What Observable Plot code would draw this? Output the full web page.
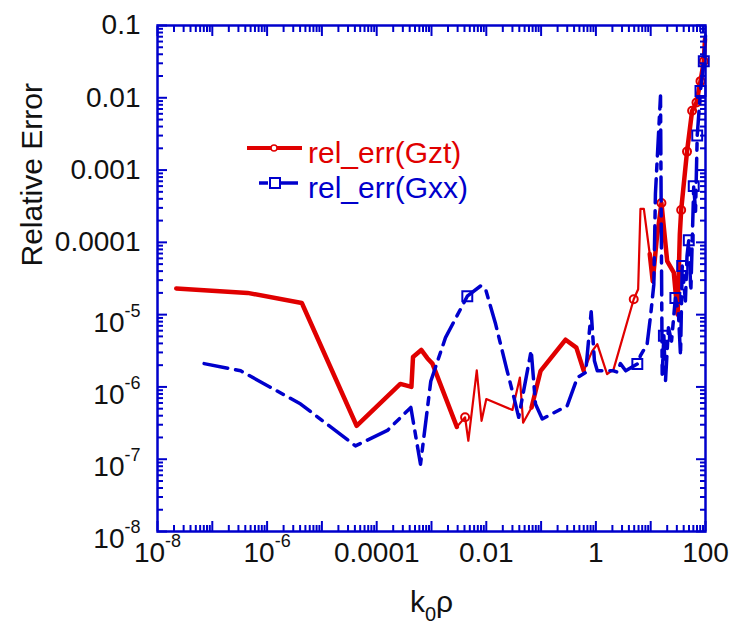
<!DOCTYPE html>
<html><head><meta charset="utf-8">
<script src="https://cdn.jsdelivr.net/npm/d3@7"></script>
<script src="https://cdn.jsdelivr.net/npm/@observablehq/plot@0.6"></script>
<style>body{margin:0;background:#fff} svg{display:block}</style>
</head><body><div id="chart"></div>
<script>
// ---- data ----
const gztX = [2.2e-8, 4.4e-7, 4.3e-6, 4.3e-5, 2.7e-4, 4.3e-4, 4.6e-4, 6.5e-4, 8.4e-4, 1.04e-3, 2.9e-3, 4.1e-3, 4.7e-3, 6.7e-3, 8.2e-3, 1.0e-2, 3.0e-2, 4.1e-2, 4.7e-2, 6.7e-2, 9.8e-2, 0.28, 0.44, 0.6, 0.85, 1.06, 1.6, 2.1, 4.9, 5.9, 6.5, 7.5, 9.6, 10.9, 12.8, 15.7, 20, 26.4, 31, 34, 36, 46, 57, 68.5, 81, 93, 98];
const gztY = [2.3e-5, 2.0e-5, 1.45e-5, 2.9e-7, 1.1e-6, 1.0e-6, 2.6e-6, 3.25e-6, 2.5e-6, 2.1e-6, 2.8e-7, 3.8e-7, 1.8e-7, 1.7e-6, 3.4e-7, 6.8e-7, 4.8e-7, 1.35e-6, 3.2e-7, 5.2e-7, 1.67e-6, 4.5e-6, 3.5e-6, 1.67e-6, 3.1e-6, 3.9e-6, 1.5e-6, 1.75e-6, 1.63e-5, 2.25e-5, 2.9e-4, 2.9e-4, 6.9e-5, 2.9e-5, 1.05e-4, 3.5e-4, 5.5e-5, 3.8e-5, 1.0e-5, 1.3e-4, 2.8e-4, 1.8e-3, 6.6e-3, 8.6e-3, 0.017, 0.032, 0.065];
const gztMarkX = [4.1e-3, 4.9, 15.7, 36, 46, 57, 68.5, 81, 93];
const gztMarkY = [3.8e-7, 1.63e-5, 3.5e-4, 2.8e-4, 1.8e-3, 6.6e-3, 8.6e-3, 0.017, 0.032];

const gxxX = [7.1e-8, 3.3e-7, 4.1e-6, 4.1e-5, 1.57e-4, 4.2e-4, 6.3e-4, 9.7e-4, 1.8e-3, 4.5e-3, 7.9e-3, 9.7e-3, 1.48e-2, 2.4e-2, 3.2e-2, 3.9e-2, 6.6e-2, 7.9e-2, 0.105, 0.3, 0.46, 0.65, 0.82, 0.94, 1.06, 2.1, 2.45, 2.8, 3.5, 5.7, 6.5, 8.6, 10, 11.4, 12.2, 15.1, 16.2, 17.4, 18.6, 21.1, 24, 28.2, 32, 35, 37.6, 43, 46, 49.5, 54, 61, 65.8, 70.6, 81, 93, 100];
const gxxY = [2.1e-6, 1.67e-6, 5.8e-7, 1.53e-7, 2.5e-7, 5.2e-7, 8.5e-8, 1.2e-6, 4.8e-6, 1.8e-5, 2.5e-5, 2.25e-5, 7.4e-6, 1.67e-6, 7.1e-7, 3.8e-7, 3.2e-6, 5.8e-7, 3.6e-7, 5.5e-7, 1.35e-6, 1.58e-6, 1.1e-5, 2.3e-6, 1.67e-6, 1.67e-6, 1.6e-6, 2.1e-6, 1.67e-6, 2.08e-6, 2.7e-6, 3.9e-6, 1.0e-5, 2.6e-5, 4.7e-4, 0.0106, 1.5e-6, 5.1e-6, 1.2e-6, 6.6e-6, 4.3e-6, 1.7e-5, 1.1e-5, 2.7e-6, 4.7e-5, 1.55e-5, 6.5e-5, 1.07e-4, 2.1e-5, 6.0e-4, 2.7e-4, 3.0e-3, 0.0124, 0.032, 0.072];
const gxxMarkX = [4.5e-3, 5.7, 17.4, 28.2, 37.6, 49.5, 61, 70.6, 81, 93];
const gxxMarkY = [1.8e-5, 2.08e-6, 5.1e-6, 1.7e-5, 4.7e-5, 1.07e-4, 6.0e-4, 3.0e-3, 0.0124, 0.032];

const seriesNames = ["rel_err(Gzt)", "rel_err(Gxx)"];
const xTickVals = [1e-8, 1e-6, 1e-4, 1e-2, 1, 100];
const xTickLabels = ["10^-8", "10^-6", "0.0001", "0.01", "1", "100"];
const yTickVals = [1e-8, 1e-7, 1e-6, 1e-5, 1e-4, 1e-3, 1e-2, 1e-1];
const yTickLabels = ["10^-8", "10^-7", "10^-6", "10^-5", "0.0001", "0.001", "0.01", "0.1"];
const xTitle = "k_0ρ";
const yTitle = "Relative Error";

// ---- build ----
const RED = "#e00000", BLUE = "#0000cc";
const gzt = gztX.map((x, i) => ({x, y: gztY[i]}));
const gxx = gxxX.map((x, i) => ({x, y: gxxY[i]}));
const gztM = gztMarkX.map((x, i) => ({x, y: gztMarkY[i]}));
const gxxM = gxxMarkX.map((x, i) => ({x, y: gxxMarkY[i]}));

function decades(lo, hi) { const a = []; for (let e = lo; e <= hi; e++) a.push(+("1e" + e)); return a; }
function minors(lo, hi) { const a = []; for (let e = lo; e < hi; e++) for (let m = 2; m <= 9; m++) a.push(+(m + "e" + e)); return a; }
const xMajor = decades(-8, 2), xMinor = minors(-8, 2);
const yMajor = decades(-8, -1), yMinor = minors(-8, -1);
const xLab = new Map(xTickVals.map((v, i) => [v, xTickLabels[i]]));
const yLab = new Map(yTickVals.map((v, i) => [v, yTickLabels[i]]));
const thick = x => x <= 3e-3 || (x >= 0.06 && x <= 0.7) || x >= 9;
const none = () => "";
const tk = {stroke: BLUE, strokeWidth: 2, tickFormat: none, label: null};
const MAJ = 10, MIN = 6;

const chart = Plot.plot({
  width: 736, height: 631,
  marginLeft: 157, marginRight: 31, marginTop: 25, marginBottom: 100,
  style: {fontFamily: "'Liberation Sans', Arial, sans-serif", fontSize: "28px", background: "white", color: "#111"},
  x: {type: "log", domain: [1e-8, 100]},
  y: {type: "log", domain: [1e-8, 0.1]},
  marks: [
    Plot.line(gzt, {x: "x", y: "y", stroke: RED, strokeWidth: 2.2, strokeLinejoin: "round"}),
    Plot.line(gzt, {x: "x", y: d => thick(d.x) ? d.y : NaN, stroke: RED, strokeWidth: 4.5, strokeLinejoin: "round"}),
    Plot.dot(gztM, {x: "x", y: "y", r: 4, stroke: RED, strokeWidth: 2, fill: "none"}),
    Plot.line(gxx, {x: "x", y: "y", stroke: BLUE, strokeWidth: 3.5, strokeDasharray: "24,8,7,8"}),
    Plot.dot(gxxM, {x: "x", y: "y", symbol: "square", r: 5.6, stroke: BLUE, strokeWidth: 2, fill: "none"}),
    Plot.frame({stroke: BLUE, strokeWidth: 2.5}),
    Plot.axisX({...tk, ticks: xMajor, anchor: "bottom", tickSize: MAJ, dy: -MAJ}),
    Plot.axisX({...tk, ticks: xMinor, anchor: "bottom", tickSize: MIN, dy: -MIN}),
    Plot.axisX({...tk, ticks: xMajor, anchor: "top", tickSize: MAJ, dy: MAJ}),
    Plot.axisX({...tk, ticks: xMinor, anchor: "top", tickSize: MIN, dy: MIN}),
    Plot.axisY({...tk, ticks: yMajor, anchor: "left", tickSize: MAJ, dx: MAJ}),
    Plot.axisY({...tk, ticks: yMinor, anchor: "left", tickSize: MIN, dx: MIN}),
    Plot.axisY({...tk, ticks: yMajor, anchor: "right", tickSize: MAJ, dx: -MAJ}),
    Plot.axisY({...tk, ticks: yMinor, anchor: "right", tickSize: MIN, dx: -MIN}),
    Plot.axisX({ticks: xTickVals, anchor: "bottom", tickSize: 0, tickPadding: 11, tickFormat: d => xLab.get(d), label: null, fill: "#111"}),
    Plot.axisY({ticks: yTickVals, anchor: "left", tickSize: 0, tickPadding: 17, tickFormat: d => yLab.get(d), label: null, fill: "#111"}),
    Plot.text([yTitle], {frameAnchor: "left", dx: -125, dy: -12, rotate: -90, fontSize: 30, fill: "#111"}),
    Plot.text([xTitle], {frameAnchor: "bottom", dy: 80, lineAnchor: "bottom", fontSize: 30, fill: "#111"})
  ]
});

// superscripts / subscripts
const NS = "http://www.w3.org/2000/svg";
function ts(txt, attrs) { const t = document.createElementNS(NS, "tspan"); t.textContent = txt; for (const k in attrs) t.setAttribute(k, attrs[k]); return t; }
chart.querySelectorAll("text").forEach(el => {
  const t = el.textContent;
  if (t.includes("^")) {
    const [base, exp] = t.split("^");
    const isY = !!el.closest('[aria-label="y-axis tick label"]');
    el.textContent = "";
    el.appendChild(ts(base, isY ? {dy: "8"} : {}));
    el.appendChild(ts(exp, {dy: "-15", "font-size": "18"}));
  } else if (t.includes("_")) {
    const [a, rest] = t.split("_");
    el.textContent = "";
    el.appendChild(ts(a, {}));
    el.appendChild(ts(rest[0], {dy: "9", "font-size": "20"}));
    el.appendChild(ts(rest.slice(1), {dy: "-9"}));
  }
});

// legend
const svg = d3.select(chart);
const lg = svg.append("g").attr("font-family", "'Liberation Sans', Arial, sans-serif").attr("font-size", 30).attr("text-anchor", "start");
lg.append("line").attr("x1", 247).attr("x2", 302).attr("y1", 148).attr("y2", 148).attr("stroke", RED).attr("stroke-width", 4);
lg.append("circle").attr("cx", 274).attr("cy", 148).attr("r", 3).attr("stroke", RED).attr("stroke-width", 1.5).attr("fill", "white");
lg.append("text").attr("x", 308).attr("y", 163).attr("text-anchor", "start").attr("fill", RED).text(seriesNames[0]);
lg.append("line").attr("x1", 259).attr("x2", 268).attr("y1", 183).attr("y2", 183).attr("stroke", BLUE).attr("stroke-width", 3.5);
lg.append("line").attr("x1", 280).attr("x2", 298).attr("y1", 183).attr("y2", 183).attr("stroke", BLUE).attr("stroke-width", 3.5);
lg.append("rect").attr("x", 270).attr("y", 178).attr("width", 10).attr("height", 10).attr("stroke", BLUE).attr("stroke-width", 2).attr("fill", "none");
lg.append("text").attr("x", 308).attr("y", 198).attr("text-anchor", "start").attr("fill", BLUE).text(seriesNames[1]);

document.getElementById("chart").appendChild(chart);
</script>
</body></html>
